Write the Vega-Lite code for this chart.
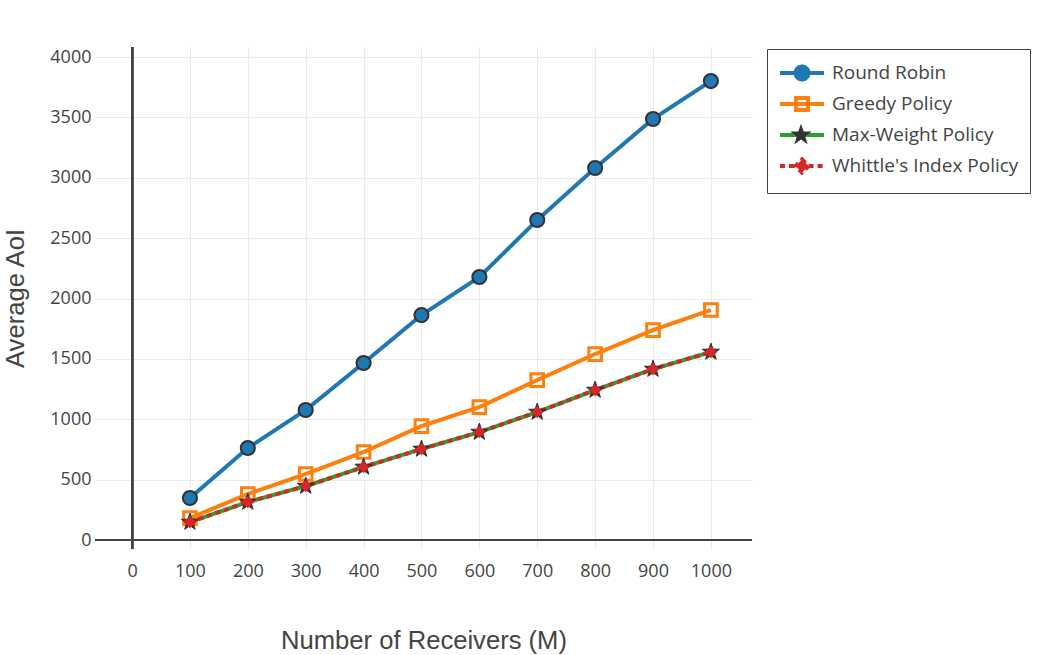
{
  "$schema": "https://vega.github.io/schema/vega-lite/v6.json",
  "width": 657,
  "height": 502,
  "autosize": {"type": "none"},
  "padding": {"left": 95, "top": 47, "right": 294, "bottom": 106},
  "background": "white",
  "config": {
    "view": {"stroke": null},
    "axis": {
      "labelFont": "Open Sans",
      "labelFontSize": 18,
      "labelColor": "#444",
      "titleFont": "Liberation Sans",
      "titleFontSize": 25.6,
      "titleFontWeight": "normal",
      "titleColor": "#444",
      "domain": false,
      "ticks": false,
      "grid": true,
      "gridColor": "#ebebeb",
      "gridWidth": 1,
      "format": "d"
    }
  },
  "data": {
    "values": [
      {"series": "Round Robin", "M": 100, "aoi": 348},
      {"series": "Round Robin", "M": 200, "aoi": 762},
      {"series": "Round Robin", "M": 300, "aoi": 1077},
      {"series": "Round Robin", "M": 400, "aoi": 1466},
      {"series": "Round Robin", "M": 500, "aoi": 1863},
      {"series": "Round Robin", "M": 600, "aoi": 2178},
      {"series": "Round Robin", "M": 700, "aoi": 2650},
      {"series": "Round Robin", "M": 800, "aoi": 3081},
      {"series": "Round Robin", "M": 900, "aoi": 3487},
      {"series": "Round Robin", "M": 1000, "aoi": 3801},
      {"series": "Greedy Policy", "M": 100, "aoi": 182},
      {"series": "Greedy Policy", "M": 200, "aoi": 381},
      {"series": "Greedy Policy", "M": 300, "aoi": 547},
      {"series": "Greedy Policy", "M": 400, "aoi": 729},
      {"series": "Greedy Policy", "M": 500, "aoi": 944},
      {"series": "Greedy Policy", "M": 600, "aoi": 1101},
      {"series": "Greedy Policy", "M": 700, "aoi": 1325},
      {"series": "Greedy Policy", "M": 800, "aoi": 1540},
      {"series": "Greedy Policy", "M": 900, "aoi": 1739},
      {"series": "Greedy Policy", "M": 1000, "aoi": 1905},
      {"series": "Max-Weight Policy", "M": 100, "aoi": 149},
      {"series": "Max-Weight Policy", "M": 200, "aoi": 315},
      {"series": "Max-Weight Policy", "M": 300, "aoi": 447},
      {"series": "Max-Weight Policy", "M": 400, "aoi": 605},
      {"series": "Max-Weight Policy", "M": 500, "aoi": 754},
      {"series": "Max-Weight Policy", "M": 600, "aoi": 894},
      {"series": "Max-Weight Policy", "M": 700, "aoi": 1060},
      {"series": "Max-Weight Policy", "M": 800, "aoi": 1242},
      {"series": "Max-Weight Policy", "M": 900, "aoi": 1416},
      {"series": "Max-Weight Policy", "M": 1000, "aoi": 1557},
      {"series": "Whittle's Index Policy", "M": 100, "aoi": 149},
      {"series": "Whittle's Index Policy", "M": 200, "aoi": 315},
      {"series": "Whittle's Index Policy", "M": 300, "aoi": 447},
      {"series": "Whittle's Index Policy", "M": 400, "aoi": 605},
      {"series": "Whittle's Index Policy", "M": 500, "aoi": 754},
      {"series": "Whittle's Index Policy", "M": 600, "aoi": 894},
      {"series": "Whittle's Index Policy", "M": 700, "aoi": 1060},
      {"series": "Whittle's Index Policy", "M": 800, "aoi": 1242},
      {"series": "Whittle's Index Policy", "M": 900, "aoi": 1416},
      {"series": "Whittle's Index Policy", "M": 1000, "aoi": 1557}
    ]
  },
  "encoding": {
    "x": {
      "field": "M",
      "type": "quantitative",
      "scale": {"domain": [-64, 1071], "nice": false, "zero": false},
      "axis": {
        "title": "Number of Receivers (M)",
        "values": [0, 100, 200, 300, 400, 500, 600, 700, 800, 900, 1000],
        "labelPadding": 13,
        "titlePadding": 48
      }
    },
    "y": {
      "field": "aoi",
      "type": "quantitative",
      "scale": {"domain": [-74, 4083], "nice": false, "zero": false},
      "axis": {
        "title": "Average AoI",
        "values": [0, 500, 1000, 1500, 2000, 2500, 3000, 3500, 4000],
        "labelPadding": 4,
        "titlePadding": 21
      }
    }
  },
  "layer": [
    {
      "mark": {"type": "rule", "stroke": "#444", "strokeWidth": 2},
      "encoding": {"x": null, "y": {"datum": 0}}
    },
    {
      "mark": {"type": "rule", "stroke": "#444", "strokeWidth": 2},
      "encoding": {"y": null, "x": {"datum": 0}}
    },
    {
      "mark": {"type": "line"},
      "encoding": {
        "color": {
          "field": "series",
          "type": "nominal",
          "scale": {
            "domain": ["Round Robin", "Greedy Policy", "Max-Weight Policy", "Whittle's Index Policy"],
            "range": ["#1f77b4", "#ff7f0e", "#2ca02c", "#d62728"]
          },
          "legend": {
            "title": null,
            "orient": "none",
            "legendX": 672,
            "legendY": 2,
            "padding": 11,
            "strokeColor": "#444",
            "labelFont": "Open Sans",
            "labelFontSize": 19,
            "labelColor": "#444",
            "labelLimit": 400,
            "labelOffset": 17,
            "symbolOffset": 11,
            "symbolSize": 484,
            "rowPadding": -1,
            "encode": {
              "symbols": {
                "update": {
                  "shape": {"signal": "'M2,-0.65L2,-0.65M2,0.65L2,0.65' + (datum.value === 'Round Robin' ? 'M-2,0H-0.6M0.6,0L0.52,0.3L0.3,0.52L0,0.6L-0.3,0.52L-0.52,0.3L-0.6,0L-0.52,-0.3L-0.3,-0.52L0,-0.6L0.3,-0.52L0.52,-0.3ZM0.6,0H2' : datum.value === 'Greedy Policy' ? 'M-2,0H2M-0.55,-0.55H0.55V0.55H-0.55Z' : datum.value === 'Max-Weight Policy' ? 'M-2,0H2' : 'M-2,0H-0.6M0.6,0H2M0,-0.6L0.6,0L0,0.6L-0.6,0Z')"},
                  "fill": {"signal": "datum.value === 'Round Robin' ? '#1f77b4' : datum.value === 'Greedy Policy' ? 'transparent' : datum.value === 'Max-Weight Policy' ? 'transparent' : '#d62728'"},
                  "stroke": {"signal": "datum.value === 'Round Robin' ? '#1f77b4' : datum.value === 'Greedy Policy' ? '#ff7f0e' : datum.value === 'Max-Weight Policy' ? '#2ca02c' : '#d62728'"},
                  "strokeWidth": {"value": 3},
                  "strokeDash": {"signal": "datum.value === 'Whittle\\'s Index Policy' ? [4, 3] : [1, 0]"},
                  "size": {"value": 484},
                  "opacity": {"value": 1}
                }
              }
            }
          }
        },
        "strokeDash": {
          "field": "series",
          "type": "nominal",
          "scale": {
            "domain": ["Round Robin", "Greedy Policy", "Max-Weight Policy", "Whittle's Index Policy"],
            "range": [[1, 0], [1, 0], [1, 0], [5, 4]]
          },
          "legend": null
        },
        "strokeWidth": {
          "field": "series",
          "type": "nominal",
          "scale": {
            "domain": ["Round Robin", "Greedy Policy", "Max-Weight Policy", "Whittle's Index Policy"],
            "range": [4, 4, 3, 3]
          },
          "legend": null
        }
      }
    },
    {
      "transform": [{"filter": "datum.series === 'Round Robin'"}],
      "mark": {"type": "point", "shape": "circle", "filled": true, "fill": "#1f77b4", "stroke": "#333", "strokeWidth": 2, "size": 200, "opacity": 1}
    },
    {
      "transform": [{"filter": "datum.series === 'Greedy Policy'"}],
      "mark": {"type": "point", "shape": "square", "filled": false, "fill": "transparent", "stroke": "#ff7f0e", "strokeWidth": 3, "size": 160, "opacity": 1}
    },
    {
      "transform": [{"filter": "datum.series === 'Max-Weight Policy'"}],
      "mark": {"type": "point", "filled": true, "fill": "#333", "stroke": "#333", "strokeWidth": 1, "size": 324, "opacity": 1},
      "encoding": {
        "shape": {
          "field": "series",
          "type": "nominal",
          "scale": {
            "domain": ["Max-Weight Policy"],
            "range": ["M0,-1L0.235,-0.324L0.951,-0.309L0.38,0.124L0.588,0.809L0,0.4L-0.588,0.809L-0.38,0.124L-0.951,-0.309L-0.235,-0.324Z"]
          },
          "legend": {
            "title": null,
            "orient": "none",
            "legendX": 696,
            "legendY": 78,
            "padding": 0,
            "labelFontSize": 1,
            "labelOpacity": 0,
            "symbolSize": 324,
            "symbolOffset": 0,
            "encode": {
              "symbols": {
                "update": {
                  "fill": {"value": "#3a3a3a"},
                  "stroke": {"value": "#3a3a3a"},
                  "strokeWidth": {"value": 1},
                  "opacity": {"value": 1}
                }
              }
            }
          }
        }
      }
    },
    {
      "transform": [{"filter": "datum.series === 'Whittle\\'s Index Policy'"}],
      "mark": {"type": "point", "shape": "diamond", "filled": true, "fill": "#d62728", "stroke": "#d62728", "strokeWidth": 1, "size": 130, "opacity": 1}
    }
  ]
}
